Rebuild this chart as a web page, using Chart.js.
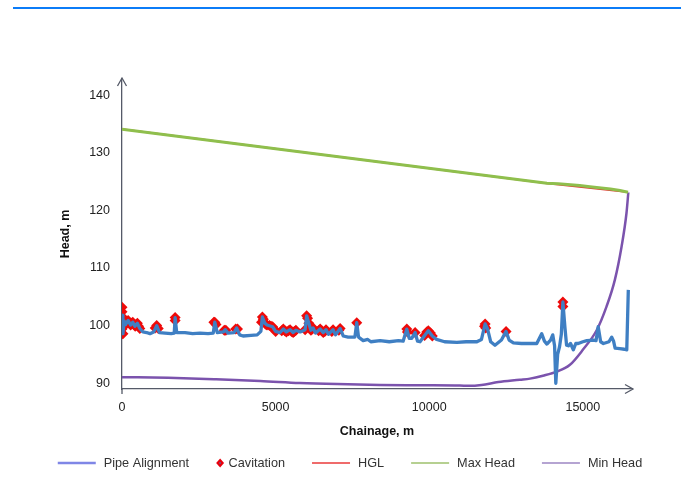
<!DOCTYPE html>
<html>
<head>
<meta charset="utf-8">
<title>Head profile</title>
<script src="https://cdn.jsdelivr.net/npm/chart.js@4"></script>
<style>
  html, body { margin: 0; padding: 0; background: #ffffff; }
  #wrap { position: relative; width: 681px; height: 502px; }
  #topRule { position: absolute; left: 13px; right: 0; top: 7px; height: 1.6px; background: #0b7cf8; }
</style>
</head>
<body>
<div id="wrap">
  <div id="topRule"></div>
  <canvas id="headChart"></canvas>
</div>
<script>
// Data
// **************************************
const xTicks = [0, 5000, 10000, 15000];
const yTicks = [90, 100, 110, 120, 130, 140];

const pipeChainage = [0, 30, 70, 120, 200, 280, 350, 420, 500, 580, 680, 800, 910, 1030, 1130, 1220, 1400, 1600, 1700, 1730,
  1780, 2050, 2300, 2540, 2800, 2970, 3020, 3100, 3300, 3360, 3450, 3650, 3730, 3830, 3940, 4200, 4400, 4520, 4570, 4650,
  4720, 4900, 5000, 5140, 5250, 5350, 5470, 5570, 5660, 5800, 5960, 6010, 6080, 6150, 6220, 6300, 6450, 6550, 6640, 6720,
  6870, 6950, 7100, 7200, 7360, 7580, 7640, 7700, 7850, 8000, 8100, 8400, 8700, 9000, 9150, 9270, 9350, 9430, 9540, 9620,
  9700, 9850, 9970, 10100, 10240, 10500, 10900, 11200, 11550, 11700, 11820, 11900, 12000, 12140, 12350, 12500, 12600, 12740, 13000, 13280,
  13500, 13660, 13750, 13830, 13950, 14020, 14080, 14120, 14180, 14240, 14300, 14350, 14420, 14470, 14530, 14600, 14690, 14770, 14850, 15000,
  15130, 15340, 15430, 15500, 15580, 15670, 15850, 15940, 16000, 16050, 16200, 16350, 16430, 16480];
const pipeHead = [101.8, 98.6, 100.8, 100.2, 100.9, 100.1, 100.6, 99.9, 100.4, 99.5, 98.9, 98.8, 98.6, 98.9, 100.0, 98.8, 98.7, 98.6, 98.7, 101.4,
  98.8, 98.8, 98.6, 98.7, 98.6, 98.7, 100.6, 98.8, 98.9, 99.3, 98.7, 98.8, 99.6, 98.4, 98.2, 98.3, 98.4, 99.0, 101.5, 100.4,
  100.1, 99.8, 99.0, 98.8, 99.4, 98.9, 99.3, 98.8, 99.2, 98.9, 99.3, 101.7, 100.4, 99.2, 99.6, 98.7, 99.4, 98.8, 99.3, 98.5,
  99.3, 98.4, 99.5, 98.2, 98.0, 98.0, 100.5, 98.0, 97.4, 97.6, 97.2, 97.4, 97.2, 97.4, 97.3, 99.4, 97.8, 97.8, 98.8, 97.3,
  97.2, 98.3, 99.1, 98.2, 97.6, 97.2, 97.1, 97.2, 97.2, 97.6, 100.3, 99.4, 97.2, 96.6, 97.5, 99.0, 97.5, 97.0, 96.9, 96.9,
  96.9, 98.6, 97.3, 96.8, 97.5, 98.4, 96.5, 90.0, 95.0, 96.3, 98.5, 104.1, 99.5, 96.6, 96.5, 96.9, 95.8, 96.9, 96.9, 97.2,
  97.4, 97.5, 97.4, 99.8, 97.2, 96.9, 97.2, 98.0, 97.3, 96.1, 96.0, 95.9, 95.8, 106.2];

const cavChainage = [0, 0, 0, 0, 0, 30, 70, 120, 160, 200, 240, 280, 320, 350, 390, 430, 470, 500, 540, 580,
  1080, 1130, 1180, 1730, 1730, 2990, 3020, 3060, 3330, 3380, 3700, 3760, 4540, 4570, 4600, 4650, 4690, 4720, 4800, 4850,
  4900, 4950, 5000, 5200, 5250, 5300, 5350, 5420, 5470, 5520, 5570, 5610, 5660, 5960, 6010, 6040, 6080, 6110, 6150, 6190,
  6220, 6400, 6450, 6500, 6550, 6600, 6640, 6830, 6870, 7060, 7100, 7640, 9270, 9290, 9540, 9850, 9920, 9970, 10040, 10100,
  11800, 11820, 11840, 12500, 14350, 14350];
const cavHead = [103.2, 102.4, 101.6, 99.4, 98.6, 98.6, 100.8, 100.2, 100.6, 100.9, 100.5, 100.1, 100.4, 100.6, 100.2, 99.9, 100.2, 100.4, 99.9, 99.5,
  99.6, 100.0, 99.5, 101.4, 100.9, 100.6, 100.6, 100.2, 99.2, 99.2, 99.4, 99.4, 100.6, 101.5, 101.1, 100.4, 100.2, 100.1, 100.0, 99.9,
  99.8, 99.4, 99.0, 99.1, 99.4, 99.1, 98.9, 99.1, 99.3, 99.0, 98.8, 99.0, 99.2, 99.3, 101.7, 101.3, 100.4, 99.8, 99.2, 99.4,
  99.6, 99.1, 99.4, 99.1, 98.8, 99.0, 99.3, 99.0, 99.3, 99.2, 99.5, 100.5, 99.4, 98.9, 98.8, 98.3, 98.9, 99.1, 98.7, 98.2,
  99.9, 100.3, 99.6, 99.0, 104.1, 103.3];

const hglChainage = [0, 13830, 16470];
const hglHead = [134.1, 124.7, 123.15];

const maxChainage = [0, 13830, 14200, 14500, 14900, 15230, 15600, 15900, 16210, 16470];
const maxHead = [134.1, 124.7, 124.62, 124.5, 124.33, 124.12, 123.9, 123.7, 123.45, 123.15];

const minChainage = [0, 1500, 3000, 4500, 5790, 7000, 8400, 9700, 11000, 11300, 11700, 12250, 12950, 13280, 13700, 14150, 14580, 15000, 15450, 15770,
  16040, 16260, 16420, 16480];
const minHead = [91.05, 90.95, 90.7, 90.4, 90.05, 89.85, 89.7, 89.65, 89.6, 89.55, 89.7, 90.2, 90.6, 90.8, 91.3, 92.0, 93.2, 95.8, 99.2, 103.3,
  107.9, 113.7, 119.5, 123.1];

const seriesNames = ['Pipe Alignment', 'Cavitation', 'HGL', 'Max Head', 'Min Head'];

// Helpers
// **************************************
function toPoints(xs, ys) {
  return xs.map((x, i) => ({ x: x, y: ys[i] }));
}

const FONT = 'Liberation Sans, Arial, sans-serif';
const AXIS_COLOR = '#555a68';

// Arrow heads on the axes + legend drawn like the original
// **************************************
const axisArrows = {
  id: 'axisArrows',
  afterDraw(chart) {
    const { ctx, chartArea } = chart;
    const l = chartArea.left, t = chartArea.top, r = chartArea.right, b = chartArea.bottom;
    ctx.save();
    ctx.strokeStyle = AXIS_COLOR;
    ctx.lineWidth = 1.3;
    ctx.beginPath();
    ctx.moveTo(l - 4.5, t + 7);
    ctx.lineTo(l, t - 1);
    ctx.lineTo(l + 4.5, t + 7);
    ctx.moveTo(r - 7, b - 4.5);
    ctx.lineTo(r + 1, b);
    ctx.lineTo(r - 7, b + 4.5);
    ctx.moveTo(l, b);
    ctx.lineTo(l, b + 5);
    ctx.stroke();
    ctx.restore();
  },
};

const legendLook = [
  { kind: 'line', color: '#7f86e6', width: 2.5 },
  { kind: 'diamond', color: '#e8000c' },
  { kind: 'line', color: '#ef6b6b', width: 1.8 },
  { kind: 'line', color: '#b6d091', width: 2 },
  { kind: 'line', color: '#b5a4d2', width: 2 },
];

const bottomLegend = {
  id: 'bottomLegend',
  afterDraw(chart) {
    const ctx = chart.ctx;
    const y = 463;
    const lineLen = 38, lineGap = 8, diaGap = 12.5, itemGap = 27;
    ctx.save();
    ctx.font = '12.7px ' + FONT;
    ctx.textBaseline = 'middle';
    const widths = seriesNames.map((name, i) => {
      const sample = legendLook[i].kind === 'line' ? lineLen + lineGap : diaGap;
      return sample + ctx.measureText(name).width;
    });
    const total = widths.reduce((a, w) => a + w, 0) + itemGap * (widths.length - 1);
    let x = 350 - total / 2;
    seriesNames.forEach((name, i) => {
      const look = legendLook[i];
      let tx;
      if (look.kind === 'line') {
        ctx.strokeStyle = look.color;
        ctx.lineWidth = look.width;
        ctx.beginPath();
        ctx.moveTo(x, y);
        ctx.lineTo(x + lineLen, y);
        ctx.stroke();
        tx = x + lineLen + lineGap;
      } else {
        ctx.fillStyle = look.color;
        ctx.beginPath();
        ctx.moveTo(x + 4, y - 4.5);
        ctx.lineTo(x + 8, y);
        ctx.lineTo(x + 4, y + 4.5);
        ctx.lineTo(x, y);
        ctx.closePath();
        ctx.fill();
        ctx.fillStyle = '#3f7fc3';
        ctx.fillRect(x + 3.3, y - 0.7, 1.4, 1.4);
        tx = x + diaGap;
      }
      ctx.fillStyle = '#333333';
      ctx.fillText(name, tx, y);
      x += widths[i] + itemGap;
    });
    ctx.restore();
  },
};

// Config
// **************************************
const config = {
  type: 'scatter',
  data: {
    datasets: [
      {
        label: seriesNames[0],
        data: toPoints(pipeChainage, pipeHead),
        showLine: true,
        borderColor: '#3f7fc3',
        backgroundColor: '#3f7fc3',
        borderWidth: 3.3,
        borderJoinStyle: 'round',
        pointRadius: 0,
        order: 0,
      },
      {
        label: seriesNames[1],
        data: toPoints(cavChainage, cavHead),
        showLine: false,
        pointStyle: 'rectRot',
        pointRadius: 5.5,
        backgroundColor: '#ee0a0a',
        borderWidth: 0,
        order: 1,
      },
      {
        label: seriesNames[2],
        data: toPoints(hglChainage, hglHead),
        showLine: true,
        borderColor: '#e23a36',
        borderWidth: 1.8,
        pointRadius: 0,
        order: 3,
      },
      {
        label: seriesNames[3],
        data: toPoints(maxChainage, maxHead),
        showLine: true,
        borderColor: '#8fbf4d',
        borderWidth: 3,
        pointRadius: 0,
        order: 2,
      },
      {
        label: seriesNames[4],
        data: toPoints(minChainage, minHead),
        showLine: true,
        borderColor: '#7b53ad',
        borderWidth: 2.5,
        pointRadius: 0,
        cubicInterpolationMode: 'monotone',
        order: 4,
      },
    ],
  },
  options: {
    responsive: true,
    maintainAspectRatio: false,
    animation: false,
    events: [],
    layout: {
      padding: { left: 0, right: 49, top: 79, bottom: 57 },
    },
    plugins: {
      legend: { display: false },
      tooltip: { enabled: false },
    },
    scales: {
      x: {
        type: 'linear',
        min: 0,
        max: 16600,
        afterBuildTicks: (scale) => {
          scale.ticks = xTicks.map((v) => ({ value: v }));
        },
        afterFit: (scale) => {
          scale.height = 56;
        },
        grid: { display: false, drawTicks: false },
        border: { display: true, color: AXIS_COLOR, width: 1.3 },
        ticks: {
          padding: 11,
          color: '#222222',
          maxRotation: 0,
          autoSkip: false,
          font: { family: FONT, size: 12.5 },
          callback: (value) => String(value),
        },
        title: {
          display: true,
          text: 'Chainage, m',
          color: '#111111',
          padding: { top: 0, bottom: 5.5 },
          font: { family: FONT, size: 12.5, weight: 'bold' },
        },
      },
      y: {
        type: 'linear',
        min: 89,
        max: 142.8,
        afterBuildTicks: (scale) => {
          scale.ticks = yTicks.map((v) => ({ value: v }));
        },
        afterFit: (scale) => {
          scale.width = 122;
        },
        grid: { display: false, drawTicks: false },
        border: { display: true, color: AXIS_COLOR, width: 1.3 },
        ticks: {
          padding: 12,
          color: '#222222',
          autoSkip: false,
          font: { family: FONT, size: 12.5 },
          callback: (value) => String(value),
        },
        title: {
          display: true,
          text: 'Head, m',
          color: '#111111',
          padding: { top: 58.5, bottom: 0 },
          font: { family: FONT, size: 12.5, weight: 'bold' },
        },
      },
    },
  },
  plugins: [axisArrows, bottomLegend],
};

// Render
new Chart(document.getElementById('headChart'), config);
</script>
</body>
</html>
